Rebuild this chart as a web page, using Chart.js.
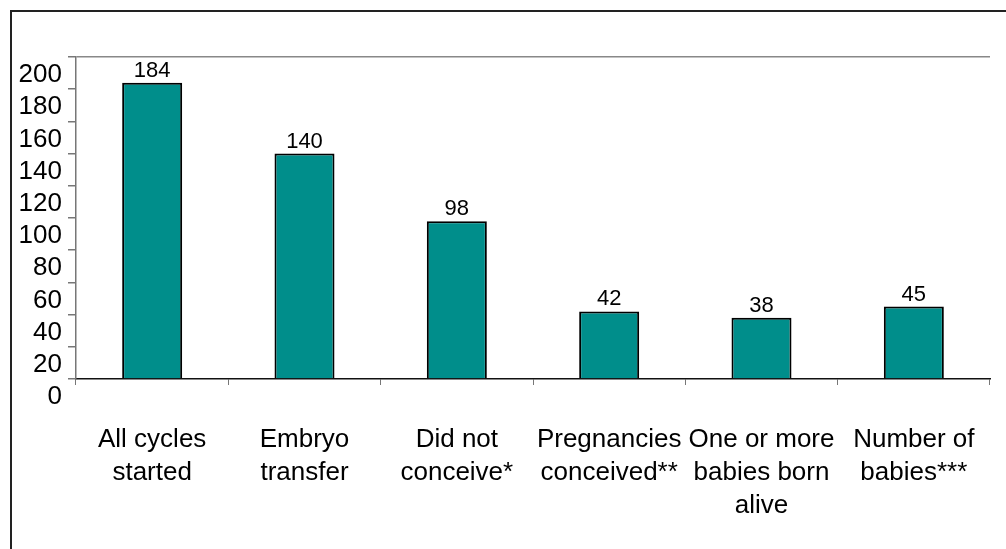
<!DOCTYPE html>
<html>
<head>
<meta charset="utf-8">
<script src="https://cdn.jsdelivr.net/npm/chart.js@4"></script>
<style>
  body { margin: 0; background: #fff; overflow: hidden; }
  .wrap { position: relative; width: 1006px; height: 549px; }
  .frame { position: absolute; left: 10px; top: 10px; right: -10px; bottom: -10px;
           border-left: 2px solid #222; border-top: 2px solid #222; }
  canvas { position: absolute; left: 0; top: 0; }
</style>
</head>
<body>
<div class="wrap">
  <div class="frame"></div>
  <canvas id="chart" width="1006" height="549"></canvas>
</div>
<script>
// chart data
const categories = [
  ["All cycles", "started"],
  ["Embryo", "transfer"],
  ["Did not", "conceive*"],
  ["Pregnancies", "conceived**"],
  ["One or more", "babies born", "alive"],
  ["Number of", "babies***"]
];
const counts = [184, 140, 98, 42, 38, 45];
const yTicks = [0, 20, 40, 60, 80, 100, 120, 140, 160, 180, 200];

// value labels above the bars
const barLabels = {
  id: "barLabels",
  afterDatasetsDraw(chart) {
    const ctx = chart.ctx;
    const meta = chart.getDatasetMeta(0);
    ctx.save();
    ctx.font = "22px 'Liberation Sans', Arial, sans-serif";
    ctx.fillStyle = "#000";
    ctx.textAlign = "center";
    ctx.textBaseline = "alphabetic";
    meta.data.forEach((bar, i) => {
      ctx.fillText(String(counts[i]), bar.x, bar.y - 6);
    });
    ctx.restore();
  }
};

new Chart(document.getElementById("chart"), {
  type: "bar",
  data: {
    labels: categories,
    datasets: [{
      data: counts,
      backgroundColor: "#008E8B",
      borderColor: "#000",
      borderWidth: 2,
      categoryPercentage: 1,
      barPercentage: 0.394
    }]
  },
  options: {
    responsive: false,
    animation: false,
    layout: { padding: { top: 57, right: 16, left: 0, bottom: 0 } },
    plugins: { legend: { display: false }, tooltip: { enabled: false } },
    scales: {
      x: {
        grid: { drawOnChartArea: false, drawTicks: true, tickLength: 6, tickColor: "#777" },
        border: { color: "#111", width: 1.5 },
        ticks: {
          color: "#000",
          font: { family: "'Liberation Sans', Arial, sans-serif", size: 26, lineHeight: 1.27 },
          padding: 38,
          maxRotation: 0,
          autoSkip: false
        },
        afterFit(scale) {
          scale.height = 170;
          scale.paddingLeft = 0;
          scale.paddingRight = 0;
        }
      },
      y: {
        min: 0,
        max: 200,
        afterBuildTicks(scale) { scale.ticks = yTicks.map(v => ({ value: v })); },
        grid: {
          color: c => (c.tick && c.tick.value === 200 ? "#888" : "transparent"),
          tickColor: "#777",
          tickLength: 8,
          lineWidth: 1.5
        },
        border: { color: "#777", width: 1.5 },
        ticks: {
          color: "#000",
          font: { family: "'Liberation Sans', Arial, sans-serif", size: 26 },
          padding: 6,
          labelOffset: 18,
          autoSkip: false
        },
        afterFit(scale) { scale.width = 76; }
      }
    }
  },
  plugins: [barLabels]
});
</script>
</body>
</html>
